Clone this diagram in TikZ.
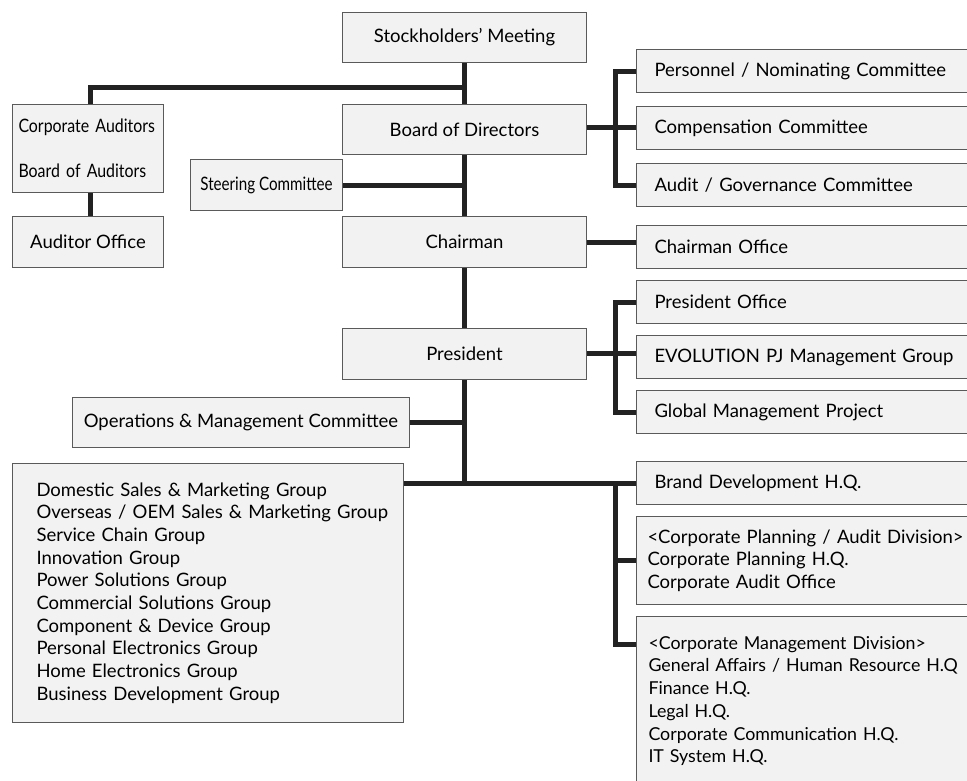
\documentclass[tikz,border=0pt]{standalone}
\usepackage{fontspec}
\setmainfont{Lato}
\newfontfamily\narrowfont[FakeStretch=0.86]{Lato}
\newfontfamily\narrowerfont[FakeStretch=0.82]{Lato}
\usetikzlibrary{positioning,calc}

\definecolor{boxfill}{HTML}{F2F2F2}
\definecolor{boxedge}{HTML}{5A5A5A}
\definecolor{linkcol}{HTML}{222222}

\begin{document}
\begin{tikzpicture}[
  x=1pt, y=-1pt,
  font=\fontsize{18.5}{22.7}\selectfont,
  orgbox/.style={draw=boxedge, fill=boxfill, line width=1pt, inner sep=0pt, anchor=north west},
  topbox/.style={orgbox, align=center, minimum width=244pt, minimum height=51pt},
  sidebox/.style={orgbox, align=left, inner xsep=18pt, text width=320pt, minimum height=43pt},
  listbox/.style={orgbox, align=left, inner xsep=11pt, text width=336pt},
  link/.style={draw=linkcol, line width=5pt, line join=miter}
]
  \useasboundingbox (0,0) rectangle (967,780);

  % Main column
  \node[topbox, minimum height=50pt] (stock) at (342,12) {Stockholders' Meeting};
  \node[topbox, minimum height=50pt] (board) at (342,104) {Board of Directors};
  \node[topbox] (chair) at (342,216) {Chairman};
  \node[topbox] (pres) at (342,328) {President};

  % Left side
  \node[orgbox, align=left, inner xsep=6pt, text width=139pt, minimum height=88pt] (aud) at (12,104)
    {\narrowfont Corporate Auditors\\[22pt]\narrowfont Board of Auditors};
  \node[orgbox, align=center, minimum width=151pt, minimum height=51pt] (audoff) [below right=23pt and 0pt of aud.south west] {Auditor Office};
  \node[orgbox, align=center, minimum width=152pt, minimum height=51pt] (steer) at (190,159) {\narrowerfont Steering Committee};
  \node[orgbox, align=center, minimum width=337pt, minimum height=50pt] (ops) at (72,397) {Operations \& Management Committee};
  \node[orgbox, align=left, inner xsep=24pt, text width=343pt, minimum height=259pt] (groups) at (12,463) {
    Domestic Sales \& Marketing Group\\
    \mbox{Overseas / OEM Sales \& Marketing Group}\\
    Service Chain Group\\
    Innovation Group\\
    Power Solutions Group\\
    Commercial Solutions Group\\
    Component \& Device Group\\
    Personal Electronics Group\\
    Home Electronics Group\\
    Business Development Group
  };

  % Right side
  \node[sidebox] (pnom) at (636,49) {Personnel / Nominating Committee};
  \node[sidebox] (comp) [below right=13pt and 0pt of pnom.south west] {Compensation Committee};
  \node[sidebox] (gov) [below right=13pt and 0pt of comp.south west] {Audit / Governance Committee};
  \node[sidebox] (chairoff) [below right=18pt and 0pt of gov.south west] {Chairman Office};
  \node[sidebox] (presoff) [below right=11pt and 0pt of chairoff.south west] {President Office};
  \node[sidebox] (evol) [below right=11pt and 0pt of presoff.south west] {EVOLUTION PJ Management Group};
  \node[sidebox] (glob) [below right=11pt and 0pt of evol.south west] {Global Management Project};
  \node[sidebox] (brand) at (636,461) {Brand Development H.Q.};
  \node[listbox, minimum height=88pt] (plan) [below right=11pt and 0pt of brand.south west] {
    <Corporate Planning / Audit Division>\\
    Corporate Planning H.Q.\\
    Corporate Audit Office
  };
  \node[listbox, inner xsep=12pt, text width=334pt, minimum height=169pt,
        font=\fontsize{17.8}{22.7}\selectfont] (mgmt) [below right=11pt and 0pt of plan.south west] {
    <Corporate Management Division>\\
    General Affairs / Human Resource H.Q\\
    Finance H.Q.\\
    Legal H.Q.\\
    Corporate Communication H.Q.\\
    IT System H.Q.
  };

  % Junctions
  \coordinate (jaud) at (464,87);
  \coordinate (jboard) at (615,127);
  \coordinate (jpres) at (615,353);
  \coordinate (jdiv) at (615,482);

  % Trunk
  \draw[link] (stock.south) -- (board.north);
  \draw[link] (board.south) -- (chair.north);
  \draw[link] (chair.south) -- (pres.north);
  \draw[link] (pres.south) -- (pres.south |- brand.west);

  % Left connectors
  \draw[link] (jaud) -| ($(aud.north)+(2,0)$);
  \draw[link] ($(aud.south)+(2,0)$) -- ($(audoff.north)+(2,0)$);
  \draw[link] (steer.east) -- (steer.east -| board.south);
  \draw[link] (ops.east) -- (ops.east -| pres.south);
  \draw[link] (groups.east |- brand.west) -- (brand.west);

  % Right connectors
  \draw[link] (board.east |- jboard) -- (jboard);
  \draw[link] (pnom.west) -| (jboard) |- (gov.west);
  \draw[link] (jboard) -- (jboard -| comp.west);
  \draw[link] (chair.east) -- (chair.east -| chairoff.west);
  \draw[link] (pres.east |- jpres) -- (jpres);
  \draw[link] (presoff.west) -| (jpres) |- (glob.west);
  \draw[link] (jpres) -- (jpres -| evol.west);
  \draw[link] (jdiv) |- (plan.west);
  \draw[link] (jdiv) |- ($(mgmt.north west)+(0,28)$);
\end{tikzpicture}
\end{document}
